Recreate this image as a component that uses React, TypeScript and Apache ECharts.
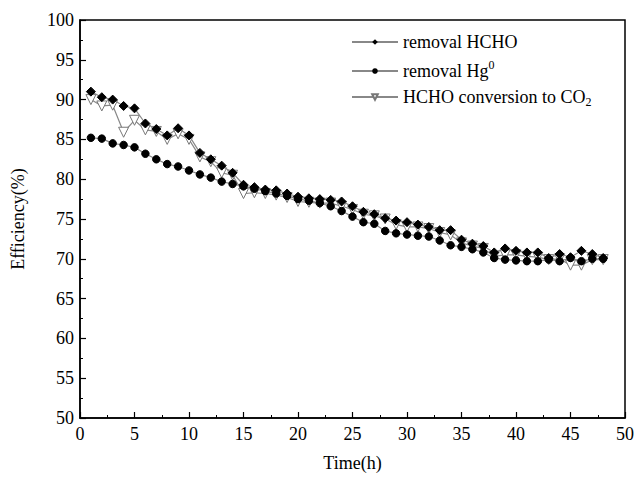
import React, { useEffect, useRef } from "react";
import * as echarts from "echarts";

const hours = Array.from({ length: 48 }, (_, i) => i + 1);

const removalHCHO = [
  91.0, 90.3, 90.0, 89.2, 88.9, 87.0, 86.3, 85.5, 86.4, 85.5,
  83.3, 82.5, 81.7, 80.8, 79.3, 79.0, 78.7, 78.6, 78.2, 77.8,
  77.6, 77.5, 77.4, 77.2, 76.6, 75.9, 75.6, 75.1, 74.8, 74.6,
  74.3, 74.0, 73.6, 73.6, 72.4, 71.9, 71.6, 70.8, 71.3, 71.0,
  70.8, 70.8, 70.1, 70.6, 70.2, 71.0, 70.6, 70.1,
];

const removalHg = [
  85.2, 85.1, 84.5, 84.3, 84.0, 83.2, 82.5, 81.9, 81.6, 81.1,
  80.6, 80.2, 79.7, 79.4, 79.1, 78.8, 78.5, 78.2, 77.9, 77.5,
  77.3, 77.0, 76.6, 76.0, 75.3, 74.6, 74.4, 73.5, 73.2, 73.05,
  72.9, 72.8, 72.3, 71.7, 71.5, 71.2, 70.8, 70.1, 69.9, 69.8,
  69.7, 69.7, 69.9, 69.7, 70.1, 69.7, 70.0, 70.0,
];

const conversionCO2 = [
  90.0, 89.2, 89.3, 85.9, 87.4, 86.2, 86.0, 85.0, 85.7, 85.0,
  82.8, 82.2, 80.8, 80.5, 78.2, 78.3, 78.2, 78.0, 77.7, 77.2,
  77.1, 77.0, 77.0, 76.6, 76.2, 75.6, 75.4, 75.0, 74.3, 74.0,
  74.0, 73.8, 73.3, 73.0, 72.0, 71.6, 71.3, 70.3, 70.5, 70.5,
  70.3, 70.2, 69.9, 70.0, 69.2, 69.2, 69.9, 69.9,
];

const seriesNames = ["removal HCHO", "removal Hg0", "HCHO conversion to CO2"];

const pairs = (vals: number[]) => hours.map((h, i) => [h, vals[i]]);

const FONT = "'Liberation Serif', 'Times New Roman', serif";

export default function App() {
  const ref = useRef<HTMLDivElement>(null);
  useEffect(() => {
    if (!ref.current) return;
    const chart = echarts.init(ref.current, null, { renderer: "svg" });
    const axisCommon = {
      axisLine: { show: true, onZero: false, lineStyle: { color: "#000", width: 1.5 } },
      axisTick: { show: true, inside: true, length: 6, lineStyle: { color: "#000", width: 1.2 } },
      minorTick: { show: true, splitNumber: 2, length: 3, lineStyle: { color: "#000", width: 1 } },
      splitLine: { show: false },
      axisLabel: { color: "#000", fontFamily: FONT, fontSize: 18 },
      nameTextStyle: { color: "#000", fontFamily: FONT, fontSize: 18 },
    };
    const formatter = (name: string) => {
      if (name === "removal Hg0") return "{t|removal Hg}{sup|0}";
      if (name === "HCHO conversion to CO2") return "{t|HCHO conversion to CO}{sub|2}";
      return "{t|" + name + "}";
    };
    chart.setOption({
      animation: false,
      backgroundColor: "#fff",
      grid: {
        left: 80,
        right: 19,
        top: 20,
        bottom: 52,
        show: true,
        borderColor: "#000",
        borderWidth: 1.5,
        backgroundColor: "transparent",
      },
      legend: {
        orient: "vertical",
        left: 346,
        top: 28,
        itemWidth: 46,
        itemHeight: 7,
        itemGap: 8,
        formatter,
        textStyle: {
          color: "#000",
          fontFamily: FONT,
          fontSize: 18,
          rich: {
            t: { fontFamily: FONT, fontSize: 18, color: "#000" },
            sup: { fontFamily: FONT, fontSize: 12, color: "#000", padding: [0, 0, 12, 0] },
            sub: { fontFamily: FONT, fontSize: 12, color: "#000", padding: [10, 0, 0, 0] },
          },
        },
        data: seriesNames,
      },
      xAxis: {
        type: "value",
        min: 0,
        max: 50,
        interval: 5,
        name: "Time(h)",
        nameLocation: "middle",
        nameGap: 36,
        ...axisCommon,
        axisLabel: { ...axisCommon.axisLabel, margin: 7 },
      },
      yAxis: {
        type: "value",
        min: 50,
        max: 100,
        interval: 5,
        name: "Efficiency(%)",
        nameLocation: "middle",
        nameGap: 53,
        ...axisCommon,
        axisLabel: { ...axisCommon.axisLabel, margin: 6 },
      },
      series: [
        {
          name: seriesNames[0],
          type: "line",
          data: pairs(removalHCHO),
          symbol: "diamond",
          symbolSize: 9,
          itemStyle: { color: "#000", borderColor: "#000" },
          lineStyle: { color: "#888", width: 1.2 },
        },
        {
          name: seriesNames[1],
          type: "line",
          data: pairs(removalHg),
          symbol: "circle",
          symbolSize: 7.5,
          itemStyle: { color: "#000", borderColor: "#000" },
          lineStyle: { color: "#888", width: 1.2 },
        },
        {
          name: seriesNames[2],
          type: "line",
          data: pairs(conversionCO2),
          symbol: "triangle",
          symbolRotate: 180,
          symbolSize: 10,
          itemStyle: { color: "#fff", borderColor: "#777", borderWidth: 1 },
          lineStyle: { color: "#888", width: 1.2 },
          z: 1,
        },
      ],
    });
    return () => chart.dispose();
  }, []);
  return <div ref={ref} style={{ width: 644, height: 477, position: "absolute", left: 0, top: 0 }} />;
}
